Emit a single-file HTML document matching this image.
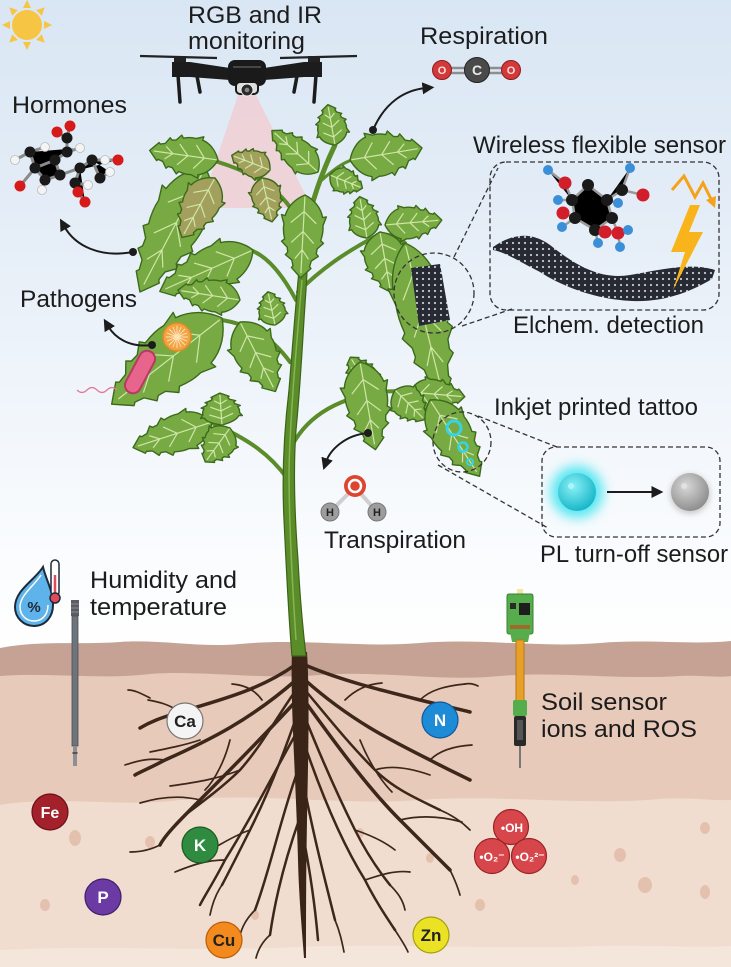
<!DOCTYPE html>
<html><head><meta charset="utf-8"><style>
html,body{margin:0;padding:0;background:#fff;}
svg{display:block;}
.t{font-family:"Liberation Sans",Arial,sans-serif;font-size:24px;fill:#1c1c1c;}
.b{font-family:"Liberation Sans",Arial,sans-serif;font-weight:bold;text-anchor:middle;}
</style></head><body>
<svg width="731" height="967" viewBox="0 0 731 967" xmlns="http://www.w3.org/2000/svg">
<defs>
<linearGradient id="sky" x1="0" y1="0" x2="0" y2="650" gradientUnits="userSpaceOnUse">
<stop offset="0" stop-color="#d9e6f3"/><stop offset="0.4" stop-color="#e7eff8"/><stop offset="0.78" stop-color="#f7fafd"/><stop offset="1" stop-color="#ffffff"/></linearGradient>
<radialGradient id="cyanB" cx="0.4" cy="0.35" r="0.7"><stop offset="0" stop-color="#8af0f6"/><stop offset="1" stop-color="#12b3c6"/></radialGradient>
<radialGradient id="grayB" cx="0.4" cy="0.35" r="0.7"><stop offset="0" stop-color="#d8d8d8"/><stop offset="1" stop-color="#8a8a8a"/></radialGradient>
<filter id="glow" x="-1" y="-1" width="3" height="3"><feGaussianBlur stdDeviation="6"/></filter>
<filter id="soft" x="-1" y="-1" width="3" height="3"><feGaussianBlur stdDeviation="3"/></filter>
<pattern id="gr" width="6" height="6" patternUnits="userSpaceOnUse"><rect width="6" height="6" fill="#272a33"/><circle cx="3" cy="3" r="1.1" fill="#c3c9d6"/></pattern>
<marker id="ah" viewBox="0 0 10 10" refX="3" refY="5" markerWidth="6" markerHeight="6" orient="auto"><path d="M0,0 L10,5 L0,10 Z" fill="#1c1c1c"/></marker>
<g id="leaf">
<path d="M0,0 C5,-12 14,-22 26,-25 L25,-30 L36,-26 C42,-27 48,-26 54,-24 L57,-28 L64,-20 L70,-19 L73,-22 L79,-13 L86,-11 L88,-13 L100,0 L88,13 L86,11 L79,13 L73,22 L70,19 L64,20 L57,28 L54,24 C48,26 42,27 36,26 L25,30 L26,25 C14,22 5,12 0,0 Z" fill="currentColor" stroke="#3c6a1b" stroke-width="1.4" vector-effect="non-scaling-stroke" stroke-linejoin="round"/>
<path d="M2,0 L94,0 M20,0 L34,-17 M20,0 L34,17 M44,0 L58,-15 M44,0 L58,15 M66,0 L77,-9 M66,0 L77,9" fill="none" stroke="#cfe6a6" stroke-width="1.2" vector-effect="non-scaling-stroke"/>
</g>
</defs>

<!-- sky -->
<rect width="731" height="967" fill="url(#sky)"/>

<!-- sun -->
<g transform="translate(27,25)" fill="#f6c544">
<circle r="15"/>
<g id="ray"><path d="M-4,-17 L0,-25 L4,-17 Z"/></g>
<use href="#ray" transform="rotate(45)"/><use href="#ray" transform="rotate(90)"/><use href="#ray" transform="rotate(135)"/>
<use href="#ray" transform="rotate(180)"/><use href="#ray" transform="rotate(225)"/><use href="#ray" transform="rotate(270)"/><use href="#ray" transform="rotate(315)"/>
</g>

<!-- soil -->
<path d="M0,648 C40,640 80,645 120,642 C160,639 200,648 240,644 C300,638 360,648 420,643 C480,638 540,648 600,643 C650,639 690,645 731,641 L731,967 L0,967 Z" fill="#c5a294"/>
<path d="M0,676 C50,672 100,680 150,674 C200,670 260,680 320,675 C380,670 440,682 500,676 C560,671 620,680 680,676 C700,675 720,678 731,676 L731,967 L0,967 Z" fill="#e7cab9"/>
<path d="M0,805 C60,795 120,808 180,800 C260,792 340,806 420,800 C500,794 580,806 660,799 C690,797 710,801 731,800 L731,967 L0,967Z" fill="#f1ddcf"/>
<path d="M0,950 C100,945 200,952 300,947 C400,943 500,950 600,946 C650,945 700,948 731,946 L731,967 L0,967Z" fill="#f5e6dc"/>
<g fill="#e3c1ae">
<ellipse cx="75" cy="838" rx="6" ry="8"/><ellipse cx="45" cy="905" rx="5" ry="6"/><ellipse cx="150" cy="842" rx="5" ry="6"/>
<ellipse cx="620" cy="855" rx="6" ry="7"/><ellipse cx="645" cy="885" rx="7" ry="8"/><ellipse cx="705" cy="828" rx="5" ry="6"/>
<ellipse cx="705" cy="892" rx="5" ry="7"/><ellipse cx="575" cy="880" rx="4" ry="5"/><ellipse cx="360" cy="833" rx="4" ry="5"/>
<ellipse cx="430" cy="858" rx="4" ry="5"/><ellipse cx="480" cy="905" rx="5" ry="6"/><ellipse cx="255" cy="915" rx="4" ry="5"/>
</g>

<!-- roots -->
<g fill="none" stroke="#3d261a" stroke-linecap="round">
<g stroke-width="3.5">
<path d="M295,665 C260,690 220,700 180,712 C160,718 150,722 140,728"/>
<path d="M296,680 C250,720 210,740 165,760 C150,768 140,772 135,775"/>
<path d="M297,700 C260,740 230,770 200,800 C180,820 165,835 160,845"/>
<path d="M305,665 C340,680 380,690 420,700 C440,705 455,708 470,712"/>
<path d="M305,680 C350,720 390,740 430,760 C445,768 460,775 470,780"/>
<path d="M304,700 C340,750 370,790 400,820 C420,840 440,860 450,870"/>
</g>
<g stroke-width="2.5">
<path d="M298,730 C270,780 250,820 225,860 C215,880 205,895 200,905"/>
<path d="M298,770 C280,820 270,870 255,910"/>
<path d="M299,820 C285,860 275,900 270,935"/>
<path d="M303,740 C320,790 340,840 365,880 C375,900 385,915 395,930"/>
<path d="M303,780 C312,830 325,880 335,920"/>
<path d="M302,830 C310,870 315,905 318,940"/>
<path d="M296,690 C275,720 262,745 240,770 C225,785 205,800 185,815"/>
<path d="M305,690 C330,720 350,745 375,770 C395,790 420,800 440,810"/>
<path d="M297,715 C285,750 270,790 250,830 C240,850 230,870 222,885"/>
<path d="M304,715 C318,750 335,790 355,830 C365,850 378,870 390,885"/>
</g>
<g stroke-width="1.7">
<path d="M180,712 C170,705 160,702 148,700"/><path d="M200,740 C185,745 170,748 150,752"/>
<path d="M200,800 C180,795 160,797 140,803"/><path d="M225,860 C205,860 190,866 175,872"/>
<path d="M240,770 C220,778 200,782 170,786"/><path d="M165,760 C150,758 140,760 125,765"/>
<path d="M420,700 C430,690 445,686 465,684"/><path d="M430,760 C440,750 455,746 472,745"/>
<path d="M400,820 C420,815 440,816 462,822"/><path d="M365,880 C380,875 395,870 410,872"/>
<path d="M375,770 C390,765 410,768 430,775"/><path d="M440,810 C452,815 462,822 470,830"/>
<path d="M255,910 C245,920 240,930 238,945"/><path d="M395,930 C400,938 405,945 408,952"/>
<path d="M270,935 C262,942 258,950 256,958"/><path d="M335,920 C340,932 342,942 344,952"/>
<path d="M230,740 C225,760 215,780 205,790"/><path d="M360,740 C368,760 380,780 392,792"/>
<path d="M160,845 C150,850 140,852 130,852"/><path d="M450,870 C455,880 458,888 460,895"/>
<path d="M250,830 C235,835 220,845 210,850"/><path d="M355,830 C370,835 385,842 395,850"/>
<path d="M222,885 C215,895 212,905 210,915"/><path d="M390,885 C398,893 403,900 405,910"/>
<path d="M262,700 C255,690 245,685 232,684"/><path d="M345,700 C355,690 368,684 382,683"/>
<path d="M150,698 C142,694 135,690 128,690"/><path d="M465,684 C470,683 474,684 478,686"/>
</g>
</g>
<path d="M292,652 C290,700 296,780 298,860 C299,900 302,930 304,958 L306,958 C306,920 306,880 307,820 C308,760 310,700 307,652 Z" fill="#3a2418"/>

<!-- drone cone -->
<polygon points="238,95 256,95 312,208 200,208" fill="#f0cfd4" opacity="0.85"/>

<!-- branches -->
<g fill="none" stroke="#5b8c2a" stroke-linecap="round">
<path d="M303,232 C290,195 260,175 218,162" stroke-width="4"/>
<path d="M303,240 C312,200 322,172 335,145" stroke-width="5"/>
<path d="M322,180 C335,168 345,162 352,160" stroke-width="3"/>
<path d="M296,300 C280,270 265,255 250,250" stroke-width="4"/>
<path d="M298,292 C320,270 345,252 380,234 C390,234 398,238 405,243" stroke-width="4"/>
<path d="M290,362 C270,335 250,325 222,320" stroke-width="4"/>
<path d="M287,478 C270,455 250,440 214,424" stroke-width="4"/>
<path d="M289,452 C305,415 340,398 380,392 C400,390 420,392 432,400" stroke-width="4"/>
</g>
<!-- stem -->
<path d="M292,656 C288,610 286,560 284,520 C282,480 283,440 289,390 C293,340 296,300 300,260 C302,240 304,225 306,215 L311,217 C309,235 308,255 306,290 C303,330 301,380 296,430 C293,470 295,520 298,560 C300,600 303,630 306,656 Z" fill="#5b8c2a" stroke="#3b6417" stroke-width="1.2"/>
<path d="M296,640 C292,580 289,520 289,470 C290,420 296,350 302,280" fill="none" stroke="#86b552" stroke-width="1.5"/>

<!-- leaves -->
<g color="#78aa44">
<use href="#leaf" transform="translate(205,168) rotate(117.7) scale(1.40,1.0)"/>
<use href="#leaf" transform="translate(218,160) rotate(188) scale(0.69,0.7)"/>
<use href="#leaf" transform="translate(318,172) rotate(222) scale(0.62,0.55)"/>
<use href="#leaf" transform="translate(335,145) rotate(260) scale(0.41,0.55)"/>
<use href="#leaf" transform="translate(350,160) rotate(-9.5) scale(0.73,0.8)"/>
<use href="#leaf" transform="translate(330,175) rotate(22) scale(0.35,0.45)"/>
<use href="#leaf" transform="translate(305,195) rotate(93) scale(0.83,0.75)"/>
<use href="#leaf" transform="translate(253,250) rotate(156) scale(1.02,0.8)"/>
<use href="#leaf" transform="translate(240,300) rotate(189) scale(0.63,0.6)"/>
<use href="#leaf" transform="translate(240,322) rotate(63) scale(0.78,0.8)"/>
<use href="#leaf" transform="translate(275,325) rotate(258) scale(0.34,0.5)"/>
<use href="#leaf" transform="translate(222,318) rotate(142) scale(1.4,1.15)"/>
<use href="#leaf" transform="translate(212,422) rotate(162) scale(0.83,0.7)"/>
<use href="#leaf" transform="translate(222,425) rotate(266) scale(0.32,0.7)"/>
<use href="#leaf" transform="translate(230,428) rotate(126) scale(0.42,0.6)"/>
<use href="#leaf" transform="translate(367,238) rotate(260) scale(0.42,0.55)"/>
<use href="#leaf" transform="translate(385,225) rotate(-5) scale(0.57,0.6)"/>
<use href="#leaf" transform="translate(380,232) rotate(80) scale(0.61,0.75)"/>
<use href="#leaf" transform="translate(405,243) rotate(76) scale(1.62,0.92)"/>
<use href="#leaf" transform="translate(372,392) rotate(238) scale(0.41,0.55)"/>
<use href="#leaf" transform="translate(360,362) rotate(80) scale(0.89,0.8)"/>
<use href="#leaf" transform="translate(410,392) rotate(5) scale(0.55,0.55)"/>
<use href="#leaf" transform="translate(395,390) rotate(45) scale(0.42,0.6)"/>
<use href="#leaf" transform="translate(430,400) rotate(57) scale(0.91,0.75)"/>
</g>
<g color="#a2a05c">
<use href="#leaf" transform="translate(215,178) rotate(119) scale(0.68,0.7)"/>
<use href="#leaf" transform="translate(270,170) rotate(201) scale(0.41,0.5)"/>
<use href="#leaf" transform="translate(262,178) rotate(77) scale(0.45,0.55)"/>
</g>

<!-- graphene patch on leaf -->
<polygon points="411,268 440,264 450,320 419,326" fill="url(#gr)"/>
<!-- tattoo rings -->
<g fill="none" stroke="#36d3e4">
<circle cx="454" cy="428" r="7" stroke-width="3"/>
<circle cx="463" cy="447" r="4.5" stroke-width="2.5"/>
<circle cx="470" cy="462" r="3" stroke-width="2"/>
</g>

<!-- pathogens -->
<g transform="translate(177,337)">
<circle r="14" fill="#f2a444" stroke="#e08a24" stroke-width="1.5"/>
<g stroke="#fde2b8" stroke-width="1">
<path d="M-11,0 L11,0 M0,-11 L0,11 M-8,-8 L8,8 M-8,8 L8,-8 M-10,-4 L10,4 M-10,4 L10,-4 M-4,-10 L4,10 M4,-10 L-4,10"/>
</g></g>
<g transform="translate(140,372) rotate(-62)">
<rect x="-24" y="-9" width="48" height="18" rx="9" fill="#b83a62"/>
<rect x="-22" y="-7" width="44" height="14" rx="7" fill="#e7648d"/>
</g>
<path d="M117,390 q-5,-5 -10,0 t-10,0 t-10,0 t-10,0" fill="none" stroke="#e17b99" stroke-width="1.3"/>

<!-- dashed callouts -->
<g fill="none" stroke="#333" stroke-width="1.3" stroke-dasharray="5,3">
<ellipse cx="434" cy="293" rx="40" ry="40"/>
<rect x="490" y="162" width="229" height="148" rx="16"/>
<path d="M454,257 L498,168 M462,326 L512,309"/>
<ellipse cx="462" cy="442" rx="29" ry="30"/>
<rect x="542" y="447" width="178" height="90" rx="14"/>
<path d="M478,416 L557,447 M438,465 L548,528"/>
</g>

<!-- wireless sensor contents -->
<path d="M493,247 C510,235 530,230 550,245 C575,265 600,280 630,275 C660,270 690,262 715,270 L712,279 C690,292 660,305 620,300 C590,297 560,285 540,272 C520,262 505,252 493,250 Z" fill="url(#gr)"/>
<g stroke="#9a9a9a" stroke-width="2.5">
<path d="M548,170 L565,183 L572,200 L575,218 L595,230 L612,218 L607,200 L588,185 L572,200 M607,200 L622,190 L630,168 M622,190 L643,195 M612,218 L618,233 M575,218 L563,213 M572,200 L558,200 M575,218 L562,227 M595,230 L598,243 M618,233 L620,247 M607,200 L618,203 M605,232 L628,230"/>
</g>
<g fill="#1a1a1a"><circle cx="572" cy="200" r="6"/><circle cx="588" cy="185" r="6"/><circle cx="607" cy="200" r="6"/><circle cx="622" cy="190" r="6"/><circle cx="612" cy="218" r="6"/><circle cx="575" cy="218" r="6"/><circle cx="595" cy="230" r="6"/></g>
<g fill="#d21d2a"><circle cx="565" cy="183" r="6.5"/><circle cx="643" cy="195" r="6.5"/><circle cx="563" cy="213" r="6.5"/><circle cx="605" cy="232" r="6.5"/><circle cx="618" cy="233" r="6.5"/></g>
<g fill="#3a8fd8"><circle cx="548" cy="170" r="5"/><circle cx="630" cy="168" r="5"/><circle cx="618" cy="203" r="5"/><circle cx="558" cy="200" r="5"/><circle cx="562" cy="227" r="5"/><circle cx="598" cy="243" r="5"/><circle cx="620" cy="247" r="5"/><circle cx="628" cy="230" r="5"/></g>
<polygon points="690,205 671,252 685,252 673,290 703,232 689,232 700,205" fill="#f8b41a"/>
<path d="M672,190 L684,176 L695,197 L703,183 L713,203" fill="none" stroke="#f4a21a" stroke-width="3"/>
<path d="M706,200 L715,208 L716,196 Z" fill="#f4a21a"/>

<!-- PL sensor -->
<circle cx="577" cy="492" r="26" fill="#3fe4f0" filter="url(#glow)" opacity="0.9"/>
<circle cx="577" cy="492" r="19" fill="url(#cyanB)"/>
<circle cx="571" cy="486" r="3" fill="#b8f6fa" opacity="0.8"/>
<circle cx="690" cy="494" r="20" fill="#b5b5b5" filter="url(#soft)" opacity="0.7"/>
<circle cx="690" cy="492" r="19" fill="url(#grayB)"/>
<circle cx="684" cy="486" r="3" fill="#e6e6e6" opacity="0.8"/>
<path d="M607,492 L655,492" stroke="#1c1c1c" stroke-width="2" marker-end="url(#ah)"/>

<!-- arrows -->
<g fill="none" stroke="#1c1c1c" stroke-width="2" marker-end="url(#ah)">
<path d="M373,130 C385,102 405,90 426,88"/>
<path d="M133,252 C100,258 75,246 64,226"/>
<path d="M152,345 C130,348 115,338 108,326"/>
<path d="M368,433 C345,435 330,450 326,462"/>
</g>
<g fill="#1c1c1c"><circle cx="373" cy="130" r="4"/><circle cx="133" cy="252" r="4"/><circle cx="152" cy="345" r="4"/><circle cx="368" cy="433" r="4"/></g>

<!-- CO2 -->
<path d="M442,68 L511,68 M442,73 L511,73" stroke="#8e8e8e" stroke-width="2.5"/>
<circle cx="442" cy="70" r="9.5" fill="#d23a3a" stroke="#8c1c1c" stroke-width="1"/>
<circle cx="477" cy="70" r="12.5" fill="#4a4a4a" stroke="#222" stroke-width="1"/>
<circle cx="511" cy="70" r="9.5" fill="#d23a3a" stroke="#8c1c1c" stroke-width="1"/>
<text x="442" y="74" class="b" font-size="11" fill="#fbdede">O</text>
<text x="477" y="75" class="b" font-size="14" fill="#e8e8e8" font-weight="normal">C</text>
<text x="511" y="74" class="b" font-size="11" fill="#fbdede">O</text>

<!-- H2O -->
<path d="M330,512 L355,487 L377,512" fill="none" stroke="#cfcfcf" stroke-width="4"/>
<circle cx="355" cy="486" r="11" fill="#dd4530"/><circle cx="355" cy="486" r="6" fill="none" stroke="#fff" stroke-width="2.5"/>
<circle cx="330" cy="512" r="9" fill="#9d9d9d" stroke="#777"/>
<circle cx="377" cy="512" r="9" fill="#9d9d9d" stroke="#777"/>
<text x="330" y="516" class="b" font-size="11" fill="#222">H</text>
<text x="377" y="516" class="b" font-size="11" fill="#222">H</text>

<!-- hormone molecule -->
<g stroke="#8a8a8a" stroke-width="3">
<path d="M15,160 L30,152 L45,147 M30,152 L35,168 L45,180 L60,175 L55,160 L67,152 L80,148 M55,160 L35,168 M67,152 L67,138 L70,126 M67,138 L57,132 M60,175 L80,168 L92,160 L105,160 L118,160 M80,168 L75,183 L78,192 L85,202 M75,183 L88,185 M92,160 L100,178 L110,172 M45,180 L42,190 M35,168 L20,186"/>
</g>
<g fill="#1a1a1a"><circle cx="30" cy="152" r="5.5"/><circle cx="55" cy="160" r="5.5"/><circle cx="67" cy="152" r="5.5"/><circle cx="60" cy="175" r="5.5"/><circle cx="45" cy="180" r="5.5"/><circle cx="35" cy="168" r="5.5"/><circle cx="80" cy="168" r="5.5"/><circle cx="92" cy="160" r="5.5"/><circle cx="75" cy="183" r="5.5"/><circle cx="100" cy="178" r="5.5"/><circle cx="67" cy="138" r="5.5"/></g>
<g fill="#f4f4f4" stroke="#bbb" stroke-width="0.8"><circle cx="15" cy="160" r="4.5"/><circle cx="45" cy="147" r="4.5"/><circle cx="80" cy="148" r="4.5"/><circle cx="105" cy="160" r="4.5"/><circle cx="42" cy="190" r="4.5"/><circle cx="88" cy="185" r="4.5"/><circle cx="110" cy="172" r="4.5"/></g>
<g fill="#d61a1a"><circle cx="70" cy="126" r="5.5"/><circle cx="57" cy="132" r="5.5"/><circle cx="78" cy="192" r="5.5"/><circle cx="85" cy="202" r="5.5"/><circle cx="118" cy="160" r="5.5"/><circle cx="20" cy="186" r="5.5"/></g>

<!-- drone -->
<g>
<path d="M140,56 L217,58 M280,58 L357,56" stroke="#222" stroke-width="2.2"/>
<rect x="174" y="56" width="12" height="6" fill="#222"/><rect x="308" y="56" width="12" height="6" fill="#222"/>
<path d="M172,62 L190,62 L230,68 L230,80 L190,77 L172,77 Z" fill="#1c1c1c"/>
<path d="M322,62 L304,62 L264,68 L264,80 L304,77 L322,77 Z" fill="#1c1c1c"/>
<path d="M178,75 L180,102 M197,76 L200,92 M316,75 L314,102 M297,76 L294,92" stroke="#1c1c1c" stroke-width="3.5" stroke-linecap="round"/>
<rect x="228" y="60" width="38" height="26" rx="7" fill="#1a1a1a"/>
<path d="M233,67 L261,67" stroke="#555" stroke-width="1.5"/>
<rect x="236" y="82" width="22" height="12" rx="4" fill="#ddd" stroke="#1a1a1a" stroke-width="2"/>
<circle cx="247" cy="90" r="6" fill="#2a2a2a" stroke="#eee" stroke-width="1"/>
<circle cx="247" cy="90" r="2.3" fill="#888"/>
</g>

<!-- humidity icon -->
<path d="M43,567 C35,580 15,590 15,607 C15,618 24,626 34,626 C46,626 53,616 53,605 C53,590 46,580 43,567 Z" fill="#5db3ea" stroke="#1d2a3a" stroke-width="2"/>
<path d="M41,575 C34,586 20,595 20,607 C20,615 26,621 34,621 C43,621 48,614 48,605" fill="none" stroke="#fff" stroke-width="1.5"/>
<text x="34" y="612" class="b" font-size="15" fill="#1d2a3a" font-weight="normal">%</text>
<rect x="51" y="560" width="8" height="36" rx="4" fill="#fff" stroke="#1d2a3a" stroke-width="1.5"/>
<path d="M55,575 L55,596" stroke="#e04a5a" stroke-width="2.5"/>
<circle cx="55" cy="598" r="5" fill="#e04a5a" stroke="#1d2a3a" stroke-width="1.5"/>
<!-- humidity probe -->
<rect x="71" y="600" width="8" height="16" fill="#5a5e63"/>
<path d="M71,604 L79,604 M71,608 L79,608 M71,612 L79,612" stroke="#8a8e93" stroke-width="1"/>
<rect x="72" y="616" width="6" height="130" fill="#6e747b" stroke="#4a4f55" stroke-width="0.8"/>
<rect x="73" y="746" width="4" height="20" fill="#8c8f93"/>
<rect x="72.5" y="752" width="5" height="2" fill="#555"/>

<!-- soil sensor -->
<rect x="517" y="589" width="6" height="7" fill="#f3e6a0"/>
<rect x="507" y="594" width="26" height="40" rx="2" fill="#55ad4c" stroke="#3a7f34" stroke-width="1"/>
<rect x="519" y="603" width="11" height="12" fill="#1e1e1e"/>
<rect x="510" y="603" width="6" height="6" fill="#2a2a2a"/>
<rect x="510" y="625" width="20" height="4" fill="#a06a2a"/>
<path d="M510,632 L530,632 L528,642 L512,642 Z" fill="#55ad4c"/>
<rect x="516" y="640" width="8" height="62" fill="#e7a128" stroke="#b8761a" stroke-width="1"/>
<rect x="513" y="700" width="14" height="16" rx="2" fill="#55ad4c"/>
<rect x="514" y="716" width="12" height="30" rx="2" fill="#2a2a2a"/>
<rect x="517" y="720" width="6" height="20" fill="#555"/>
<rect x="519" y="746" width="2" height="22" fill="#777"/>

<!-- nutrients -->
<g stroke-width="1.2">
<circle cx="185" cy="721" r="18" fill="#f4f4f4" stroke="#777"/>
<circle cx="440" cy="720" r="18" fill="#1d8bd6" stroke="#0e5a9a"/>
<circle cx="50" cy="812" r="18" fill="#a3212a" stroke="#6a1016"/>
<circle cx="200" cy="845" r="18" fill="#2e8b40" stroke="#185a24"/>
<circle cx="103" cy="897" r="18" fill="#6b3aa2" stroke="#3f1f6a"/>
<circle cx="224" cy="940" r="18" fill="#f28a1d" stroke="#b85c0a"/>
<circle cx="431" cy="935" r="18" fill="#ebe226" stroke="#a59e10"/>
<circle cx="511" cy="827" r="17.5" fill="#d6464a" stroke="#9a2226"/>
<circle cx="492" cy="856" r="17.5" fill="#d6464a" stroke="#9a2226"/>
<circle cx="529" cy="856" r="17.5" fill="#d6464a" stroke="#9a2226"/>
</g>
<g>
<text x="185" y="727" class="b" font-size="17" fill="#222">Ca</text>
<text x="440" y="726" class="b" font-size="17" fill="#fff">N</text>
<text x="50" y="818" class="b" font-size="16" fill="#fff">Fe</text>
<text x="200" y="851" class="b" font-size="17" fill="#fff">K</text>
<text x="103" y="903" class="b" font-size="17" fill="#fff">P</text>
<text x="224" y="946" class="b" font-size="17" fill="#222">Cu</text>
<text x="431" y="941" class="b" font-size="17" fill="#222">Zn</text>
<text x="512" y="832" class="b" font-size="12" fill="#fff" font-weight="normal">•OH</text>
<text x="492" y="861" class="b" font-size="12" fill="#fff" font-weight="normal">•O₂⁻</text>
<text x="530" y="861" class="b" font-size="12" fill="#fff" font-weight="normal">•O₂²⁻</text>
</g>

<!-- labels -->
<text class="t" x="188" y="23" textLength="134" lengthAdjust="spacingAndGlyphs">RGB and IR</text>
<text class="t" x="188" y="49" textLength="117" lengthAdjust="spacingAndGlyphs">monitoring</text>
<text class="t" x="12" y="113" textLength="115" lengthAdjust="spacingAndGlyphs">Hormones</text>
<text class="t" x="420" y="44" textLength="128" lengthAdjust="spacingAndGlyphs">Respiration</text>
<text class="t" x="473" y="153" textLength="253" lengthAdjust="spacingAndGlyphs">Wireless flexible sensor</text>
<text class="t" x="513" y="333" textLength="191" lengthAdjust="spacingAndGlyphs">Elchem. detection</text>
<text class="t" x="20" y="307" textLength="117" lengthAdjust="spacingAndGlyphs">Pathogens</text>
<text class="t" x="494" y="415" textLength="204" lengthAdjust="spacingAndGlyphs">Inkjet printed tattoo</text>
<text class="t" x="324" y="548" textLength="142" lengthAdjust="spacingAndGlyphs">Transpiration</text>
<text class="t" x="540" y="562" textLength="188" lengthAdjust="spacingAndGlyphs">PL turn-off sensor</text>
<text class="t" x="90" y="588" textLength="147" lengthAdjust="spacingAndGlyphs">Humidity and</text>
<text class="t" x="90" y="615" textLength="137" lengthAdjust="spacingAndGlyphs">temperature</text>
<text class="t" x="541" y="710" textLength="126" lengthAdjust="spacingAndGlyphs">Soil sensor</text>
<text class="t" x="541" y="737" textLength="156" lengthAdjust="spacingAndGlyphs">ions and ROS</text>
</svg>
</body></html>
